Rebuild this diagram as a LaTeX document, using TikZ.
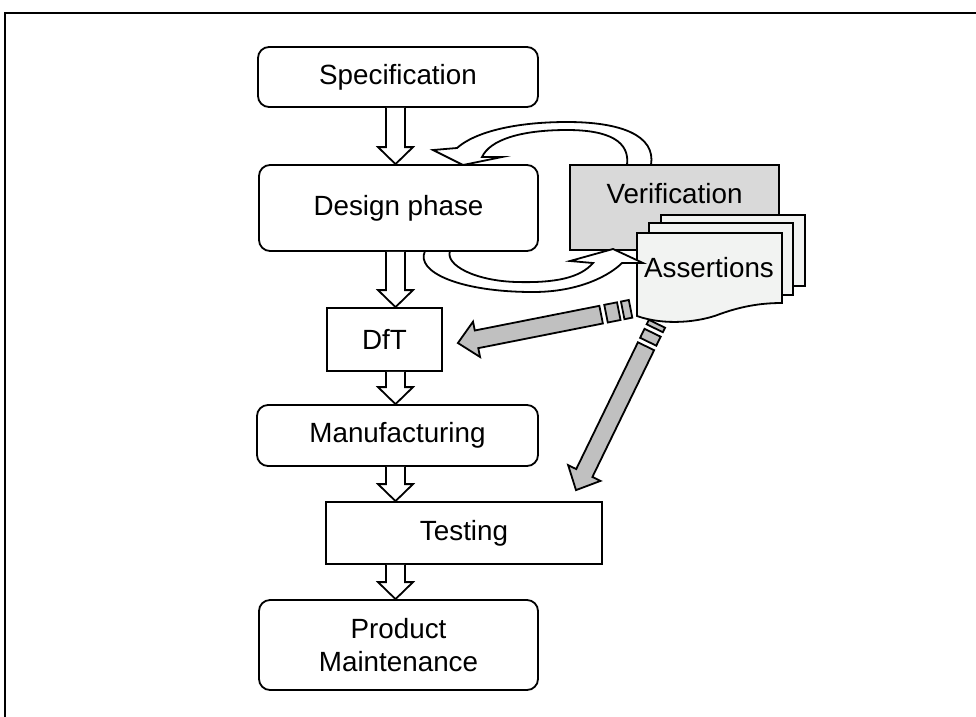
\documentclass[tikz,border=0pt]{standalone}
\usepackage{fontspec}
\setmainfont{Liberation Sans}
\usetikzlibrary{calc}
\definecolor{verifgray}{HTML}{D9D9D9}
\definecolor{docfill}{HTML}{F2F3F2}
\definecolor{arrowgray}{HTML}{C0C0C0}
\tikzset{
  lbl/.style={font=\fontsize{27.8pt}{33pt}\selectfont, inner sep=0pt, align=center},
  rbox/.style={draw, line width=1.8pt, rounded corners=11pt, fill=white, lbl},
  sbox/.style={draw, line width=1.8pt, fill=white, lbl},
  hollow/.style={draw, line width=1.8pt, fill=white, line join=miter},
  grayarrow/.style={draw, line width=1.8pt, fill=arrowgray, line join=miter},
  docbox/.style={draw, line width=1.8pt, fill=docfill},
  framepen/.style={line width=2pt}
}
\newcommand\vblockarrow[2]{%
  \path[hollow] let \p1=(#1.south -| axis), \p2=(#2.north -| axis) in
    (\x1-9.5pt,\y1) -- (\x1-9.5pt,\y2+17pt) -- (\x1-17.5pt,\y2+17pt) -- (\x1,\y2)
    -- (\x1+17.5pt,\y2+17pt) -- (\x1+9.5pt,\y2+17pt) -- (\x1+9.5pt,\y1);}
\newcommand\grayblock[6]{% tip, angle, shaft length, seg1 start, seg1 end, seg2 start, (seg2 end fixed via #6)
  \begin{scope}[shift={(#1)}, rotate=#2]
    \path[grayarrow] (0,0) -- (19,18) -- (19,9) -- (#3,9) -- (#3,-9) -- (19,-9) -- (19,-18) -- cycle;
    \path[grayarrow] (#4,-9) rectangle (#5,9);
    \path[grayarrow] #6;
  \end{scope}}
\begin{document}
\begin{tikzpicture}[x=1pt,y=-1pt]
\useasboundingbox (0,0) rectangle (976,716);
% frame
\draw[framepen] (5,720) -- (5,13) -- (980,13);
\coordinate (axis) at (395.5,0);
% main flow
\node[rbox, minimum width=280pt, minimum height=60pt] (spec) at (398,77) {Specification};
\node[rbox, minimum width=279pt, minimum height=86pt] (design) at (398.5,208) {Design phase};
\node[sbox, minimum width=115pt, minimum height=63pt] (dft) at (384.5,339.5) {DfT};
\node[rbox, minimum width=281pt, minimum height=61pt] (manuf) at (397.5,435.5) {Manufacturing};
\node[sbox, minimum width=276pt, minimum height=62pt] (testing) at (464,533) {Testing};
\node[rbox, minimum width=279pt, minimum height=90pt] (product) at (398.5,645) {Product\\Maintenance};
\vblockarrow{spec}{design}
\vblockarrow{design}{dft}
\vblockarrow{dft}{manuf}
\vblockarrow{manuf}{testing}
\vblockarrow{testing}{product}
% verification and assertions
\node[draw, line width=1.8pt, fill=verifgray, minimum width=209pt, minimum height=85pt, inner sep=0pt] (verif) at (674.5,207.5) {};
\node[lbl] (veriflabel) at ($(verif.center)+(0,-14)$) {Verification};
\node[docbox, minimum width=144pt, minimum height=71pt, inner sep=0pt] (docback) at (733,250.5) {};
\node[docbox, minimum width=144pt, minimum height=72pt, inner sep=0pt] (docmid) at (721,259) {};
\path[docbox] (637,233) -- (782,233) -- (782,303)
  .. controls (765,303) and (745,305) .. (720,314)
  .. controls (700,322) and (665,326) .. (637,316) -- cycle;
\coordinate (docfront) at (709,270);
\node[lbl] (assertions) at (709,268) {Assertions};
% curved hollow arrows
\path[hollow] (651,165) .. controls (656,135) and (620,122) .. (567,122)
  .. controls (515,122) and (475,132) .. (457,148) -- (433,150) -- (463,165)
  -- (502,157) -- (482,157) .. controls (490,140) and (520,130) .. (567,130)
  .. controls (610,130) and (630,142) .. (627,165) -- cycle;
\path[hollow] (425,251) .. controls (415,272) and (460,292) .. (533,292)
  .. controls (580,292) and (610,275) .. (622,263) -- (643,263) -- (613,249)
  -- (570,261) -- (593,263) .. controls (580,278) and (555,283) .. (517,282)
  .. controls (475,281) and (445,265) .. (450,251) -- cycle;
% gray arrows from assertions
\coordinate (tipA) at ($(dft.east)+(15,3.5)$);
\coordinate (tipB) at ($(testing.north)+(112,-11)$);
\grayblock{tipA}{11.2}{146}{151}{164}{(168,-9) rectangle (176,9)}
\grayblock{tipB}{64.05}{160}{165}{175}{(180,-9) rectangle (185,9)}
\end{tikzpicture}
\end{document}
